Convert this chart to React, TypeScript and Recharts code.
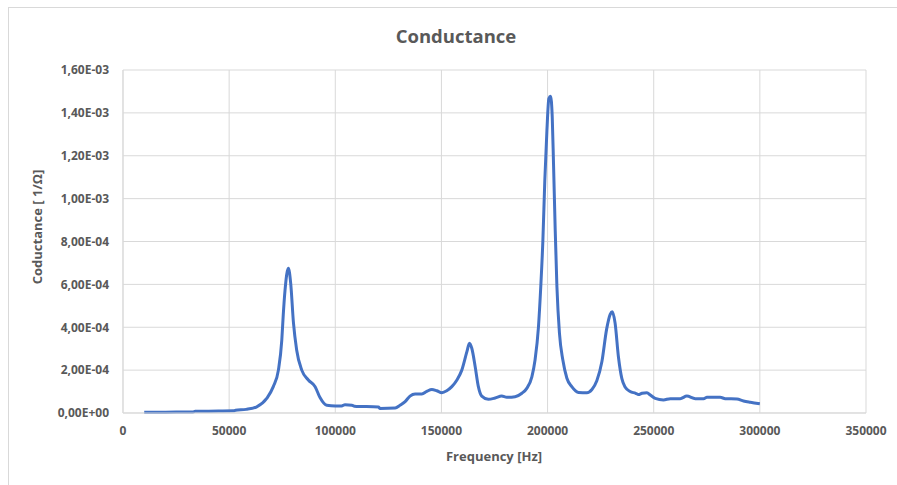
import React from 'react';
import { LineChart, Line, XAxis, YAxis, CartesianGrid } from 'recharts';

const frequencies = [
  10000, 20000, 33000, 34000, 45000, 52000, 53000, 58000, 63000, 67700,
  70800, 73200, 74800, 75500, 76300, 77900, 79000, 80300, 81800, 84200,
  87300, 90500, 92800, 96000, 100000, 103000, 104600, 107800, 109000, 120300,
  121100, 128200, 130500, 132900, 135200, 137600, 140800, 143100, 145500, 147800,
  150200, 152500, 154900, 157300, 159600, 162000, 163200, 164300, 165900, 167400,
  169000, 172100, 175300, 178400, 180800, 184700, 187900, 190200, 192600, 194100,
  195700, 196800, 197800, 198700, 199700, 200600, 201400, 202200, 202800, 203600,
  204400, 205600, 207200, 209100, 211400, 214600, 218500, 220900, 223200, 225600,
  227800, 229500, 230500, 231800, 233400, 235000, 236600, 238900, 241500, 242800,
  244500, 246800, 248400, 250700, 254600, 257800, 262500, 265600, 269600, 273500,
  275100, 281300, 283700, 289200, 292300, 295500, 300000,
];

const conductance = [
  3e-6, 4e-6, 5e-6, 8e-6, 9e-6, 1.0e-5, 1.3e-5, 1.7e-5, 2.9e-5, 6.8e-5,
  1.23e-4, 2.0e-4, 3.4e-4, 4.6e-4, 5.7e-4, 6.75e-4, 6.05e-4, 4.2e-4, 2.94e-4, 2.0e-4,
  1.54e-4, 1.23e-4, 7.2e-5, 3.6e-5, 3.3e-5, 3.3e-5, 3.9e-5, 3.6e-5, 3.2e-5, 2.8e-5,
  2.1e-5, 2.3e-5, 3.6e-5, 5.3e-5, 7.9e-5, 8.9e-5, 8.9e-5, 1.01e-4, 1.10e-4, 1.04e-4,
  9.5e-5, 1.04e-4, 1.23e-4, 1.54e-4, 2.0e-4, 2.86e-4, 3.25e-4, 3.02e-4, 2.16e-4, 1.23e-4,
  7.9e-5, 6.4e-5, 7.0e-5, 7.9e-5, 7.3e-5, 7.6e-5, 9.2e-5, 1.15e-4, 1.69e-4, 2.47e-4,
  4.0e-4, 5.9e-4, 8.07e-4, 1.086e-3, 1.32e-3, 1.467e-3, 1.478e-3, 1.38e-3, 1.164e-3, 8.53e-4,
  5.9e-4, 3.72e-4, 2.47e-4, 1.62e-4, 1.23e-4, 9.6e-5, 9.5e-5, 1.1e-4, 1.5e-4, 2.4e-4,
  3.9e-4, 4.6e-4, 4.72e-4, 4.2e-4, 2.6e-4, 1.6e-4, 1.2e-4, 1.0e-4, 9.2e-5, 8.6e-5,
  9.2e-5, 9.5e-5, 8.4e-5, 6.8e-5, 6.1e-5, 6.7e-5, 6.7e-5, 7.9e-5, 6.7e-5, 6.7e-5,
  7.3e-5, 7.3e-5, 6.7e-5, 6.5e-5, 5.6e-5, 5.0e-5, 4.3e-5,
];

const xTicks = [0, 50000, 100000, 150000, 200000, 250000, 300000, 350000];
const yTicks = [0, 0.0002, 0.0004, 0.0006, 0.0008, 0.001, 0.0012, 0.0014, 0.0016];
const yTickLabels = [
  '0,00E+00', '2,00E-04', '4,00E-04', '6,00E-04', '8,00E-04',
  '1,00E-03', '1,20E-03', '1,40E-03', '1,60E-03',
];

const titleText = 'Conductance';
const xLabelText = 'Frequency [Hz]';
const yLabelText = 'Coductance [ 1/Ω]';

const data = frequencies.map((f, i) => ({ f, g: conductance[i] }));

const FONT = '"Open Sans", "Liberation Sans", sans-serif';
const TEXT = '#595959';
const GRID = '#d9d9d9';

const tickStyle = { fill: TEXT, fontSize: 12, fontWeight: 700, fontFamily: FONT };

export default function App() {
  return (
    <div
      style={{
        position: 'absolute',
        left: 0,
        top: 0,
        width: 897,
        height: 485,
        background: '#fff',
        fontFamily: FONT,
        overflow: 'hidden',
      }}
    >
      <div
        style={{
          position: 'absolute',
          left: 8,
          top: 7,
          width: 900,
          height: 490,
          borderLeft: '1px solid #d9d9d9',
          borderTop: '1px solid #d9d9d9',
        }}
      />
      <LineChart
        width={897}
        height={485}
        data={data}
        margin={{ top: 70, right: 31, bottom: 22, left: 40 }}
      >
        <CartesianGrid stroke={GRID} strokeWidth={1} />
        <XAxis
          dataKey="f"
          type="number"
          domain={[0, 350000]}
          ticks={xTicks}
          interval={0}
          height={50}
          tickLine={false}
          tickMargin={7}
          axisLine={{ stroke: GRID }}
          tick={tickStyle}
        />
        <YAxis
          type="number"
          domain={[0, 0.0016]}
          ticks={yTicks}
          interval={0}
          width={83}
          tickLine={false}
          tickMargin={8}
          axisLine={{ stroke: GRID }}
          tick={tickStyle}
          tickFormatter={(v: number) => {
            const idx = yTicks.findIndex((t) => Math.abs(t - v) < 1e-9);
            return idx >= 0 ? yTickLabels[idx] : String(v);
          }}
        />
        <Line
          dataKey="g"
          type="monotone"
          stroke="#4472C4"
          strokeWidth={3}
          dot={false}
          isAnimationActive={false}
        />
      </LineChart>
      <div
        style={{
          position: 'absolute',
          left: 456,
          top: 35,
          transform: 'translate(-50%, -50%)',
          fontSize: 18.5,
          fontWeight: 700,
          color: TEXT,
          whiteSpace: 'nowrap',
        }}
      >
        {titleText}
      </div>
      <div
        style={{
          position: 'absolute',
          left: 494,
          top: 456,
          transform: 'translate(-50%, -50%)',
          fontSize: 13,
          fontWeight: 700,
          color: TEXT,
          whiteSpace: 'nowrap',
        }}
      >
        {xLabelText}
      </div>
      <div
        style={{
          position: 'absolute',
          left: 37,
          top: 227,
          transform: 'translate(-50%, -50%) rotate(-90deg)',
          fontSize: 13,
          fontWeight: 700,
          color: TEXT,
          whiteSpace: 'nowrap',
        }}
      >
        {yLabelText}
      </div>
    </div>
  );
}
